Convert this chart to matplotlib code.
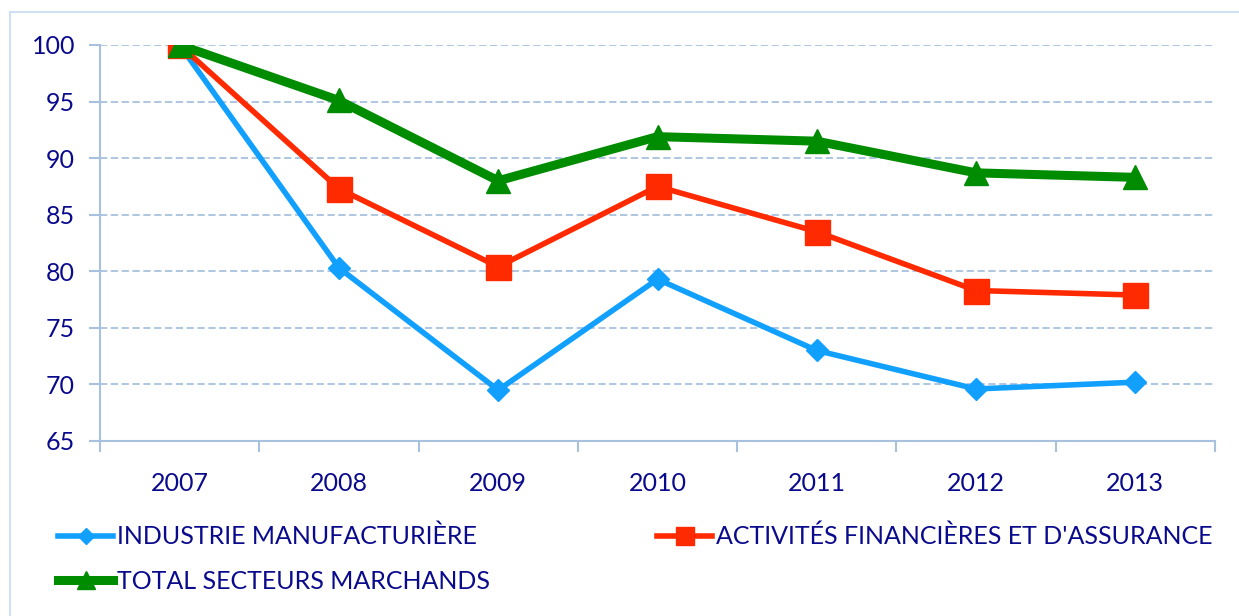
import matplotlib.pyplot as plt
from matplotlib.patches import Rectangle

years = ["2007", "2008", "2009", "2010", "2011", "2012", "2013"]
industrie = [100, 80.3, 69.5, 79.3, 73.0, 69.6, 70.2]
financieres = [100, 87.3, 80.4, 87.5, 83.5, 78.3, 77.9]
total = [100, 95.1, 88.0, 91.9, 91.5, 88.7, 88.3]
yticks = [65, 70, 75, 80, 85, 90, 95, 100]

navy = "#0a0a8c"
axis_col = "#a7c1de"

plt.rcParams["font.family"] = ["Lato", "DejaVu Sans"]

fig = plt.figure(figsize=(12.39, 6.16), dpi=100)
ax = fig.add_axes([100 / 1239, 1 - 441 / 616, 1115 / 1239, 396 / 616])

x = list(range(len(years)))
l1, = ax.plot(x, industrie, color="#12a0ff", lw=4, marker="D", ms=11,
              solid_joinstyle="round", label="INDUSTRIE MANUFACTURIÈRE", zorder=3)
l2, = ax.plot(x, financieres, color="#ff2a00", lw=4, marker="s", ms=18,
              solid_joinstyle="round", label="ACTIVITÉS FINANCIÈRES ET D'ASSURANCE", zorder=4)
l3, = ax.plot(x, total, color="#008c00", lw=6.5, marker="^", ms=17,
              solid_joinstyle="round", label="TOTAL SECTEURS MARCHANDS", zorder=5)

ax.set_xlim(-0.5, len(years) - 0.5)
ax.set_ylim(65, 100)
ax.set_yticks(yticks)
ax.set_yticklabels([str(v) for v in yticks], color=navy, fontsize=18)
ax.set_xticks(x)
ax.set_xticklabels(years, color=navy, fontsize=18)
ax.set_xticks([i - 0.5 for i in range(len(years) + 1)], minor=True)
ax.tick_params(axis="x", which="major", length=0, pad=22)
ax.tick_params(axis="x", which="minor", length=8, width=1.5, color=axis_col)
ax.tick_params(axis="y", length=8, width=1.5, color=axis_col, pad=10)

for v in yticks[1:]:
    ax.axhline(v, color=axis_col, lw=1.3, ls=(0, (4, 2)), zorder=1)

for side in ["top", "right"]:
    ax.spines[side].set_visible(False)
for side in ["left", "bottom"]:
    ax.spines[side].set_color(axis_col)
    ax.spines[side].set_linewidth(1.5)

fig.patches.append(Rectangle((10 / 1239, -0.1), 1.2, 1 - 12 / 616 + 0.1,
                             transform=fig.transFigure, fill=False,
                             edgecolor="#cfe0f2", lw=1.5))

leg = fig.legend([l1, l3, l2], [l1.get_label(), l3.get_label(), l2.get_label()],
                 loc="upper left", bbox_to_anchor=(58 / 1239, 1 - 525 / 616),
                 ncol=2, frameon=False, fontsize=18, handlelength=2.2,
                 handletextpad=0.15, columnspacing=6.7, labelspacing=0.85,
                 markerscale=0.75, borderaxespad=0, borderpad=0)
for t in leg.get_texts():
    t.set_color(navy)

fig.savefig("out.png", dpi=100)
